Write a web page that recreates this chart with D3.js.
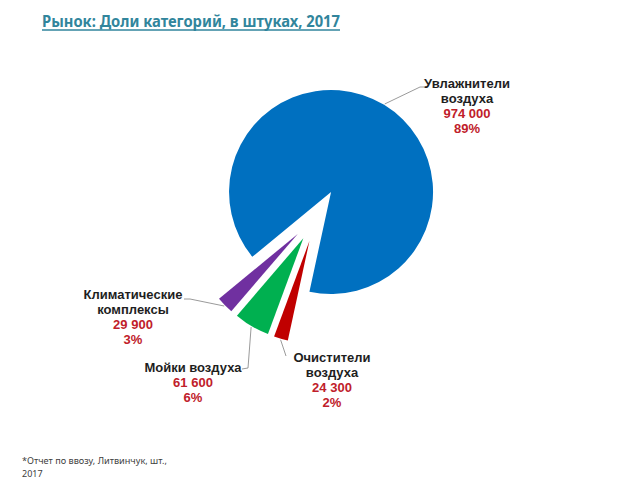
<!DOCTYPE html>
<html>
<head>
<meta charset="utf-8">
<script src="https://cdn.jsdelivr.net/npm/d3@7"></script>
<style>
  body { margin: 0; background: #fff; }
  svg { display: block; }
</style>
</head>
<body>
<svg id="chart" width="640" height="480"></svg>
<script>
// data
var categories = ["Увлажнители\nвоздуха", "Очистители\nвоздуха", "Мойки воздуха", "Климатические\nкомплексы"];
var values = [974000, 24300, 61600, 29900];
var colors = ["#0070C0", "#C00000", "#00B050", "#7030A0"];

// where each label sits and where its leader line bends (layout only)
var labelAt = [[467, 83], [332, 357], [193, 367], [133, 294]];
var elbowAt = [[[420, 87], [425, 87]], [[286, 356]], [[248, 368], [242, 369]], [[190, 299], [184, 299]]];

var svg = d3.select("#chart");
var W = 640, H = 480;
var cx = 317, cy = 215, R = 102, explode = 27;

var locale = d3.formatLocale({decimal: ",", thousands: "\u00a0", grouping: [3], currency: ["", ""]});
var fmtNum = locale.format(",d");
var total = d3.sum(values);
var fmtPct = v => Math.round(v / total * 100) + "%";

// title
var title = svg.append("text")
  .attr("x", 42).attr("y", 27)
  .attr("font-family", "Noto Sans, sans-serif")
  .attr("font-weight", "bold")
  .attr("font-size", 16)
  .attr("fill", "#31859C")
  .attr("textLength", 298)
  .attr("lengthAdjust", "spacingAndGlyphs")
  .text("Рынок: Доли категорий, в штуках, 2017");
svg.append("line")
  .attr("x1", 42).attr("x2", 340).attr("y1", 30).attr("y2", 30)
  .attr("stroke", "#31859C").attr("stroke-width", 1.5);

var pie = d3.pie().sort(null)
  .startAngle(230.5 * Math.PI / 180)
  .endAngle((230.5 + 360) * Math.PI / 180);
var arcs = pie(values);
var arc = d3.arc().innerRadius(0).outerRadius(R);
var edge = d3.arc().innerRadius(R + 1).outerRadius(R + 1);

function shift(d) {
  var m = (d.startAngle + d.endAngle) / 2;
  return [Math.sin(m) * explode, -Math.cos(m) * explode];
}

var g = svg.append("g").attr("transform", `translate(${cx},${cy})`);
g.selectAll("path")
  .data(arcs)
  .join("path")
  .attr("transform", d => `translate(${shift(d)})`)
  .attr("d", arc)
  .attr("fill", (d, i) => colors[i]);

// leader lines
svg.append("g").selectAll("path")
  .data(arcs)
  .join("path")
  .attr("fill", "none")
  .attr("stroke", "#808080")
  .attr("stroke-width", 0.8)
  .attr("d", (d, i) => {
    var s = shift(d), c = edge.centroid(d);
    var pts = [[cx + s[0] + c[0], cy + s[1] + c[1]]].concat(elbowAt[i]);
    return d3.line()(pts);
  });

// labels
var lab = svg.append("g")
  .attr("font-family", "Liberation Sans, Arial, sans-serif")
  .attr("font-weight", "bold")
  .attr("font-size", 13)
  .attr("text-anchor", "middle");

categories.forEach(function (name, i) {
  var lines = name.split("\n");
  var x = labelAt[i][0], y = labelAt[i][1];
  var t = lab.append("text").attr("x", x).attr("y", y + 4.5);
  lines.forEach(function (ln, k) {
    t.append("tspan").attr("x", x).attr("dy", k ? 15 : 0).attr("fill", "#1e1e1e").text(ln);
  });
  t.append("tspan").attr("x", x).attr("dy", 15).attr("fill", "#C0202A").text(fmtNum(values[i]));
  t.append("tspan").attr("x", x).attr("dy", 15.5).attr("fill", "#C0202A").text(fmtPct(values[i]));
});

// footnote
svg.append("text")
  .attr("x", 22).attr("y", 464)
  .attr("font-family", "Noto Sans, sans-serif")
  .attr("font-size", 9)
  .attr("fill", "#404040")
  .attr("textLength", 145)
  .attr("lengthAdjust", "spacingAndGlyphs")
  .text("*Отчет по ввозу, Литвинчук, шт.,");
svg.append("text")
  .attr("x", 22).attr("y", 477)
  .attr("font-family", "Noto Sans, sans-serif")
  .attr("font-size", 9)
  .attr("fill", "#404040")
  .text("2017");
</script>
</body>
</html>
